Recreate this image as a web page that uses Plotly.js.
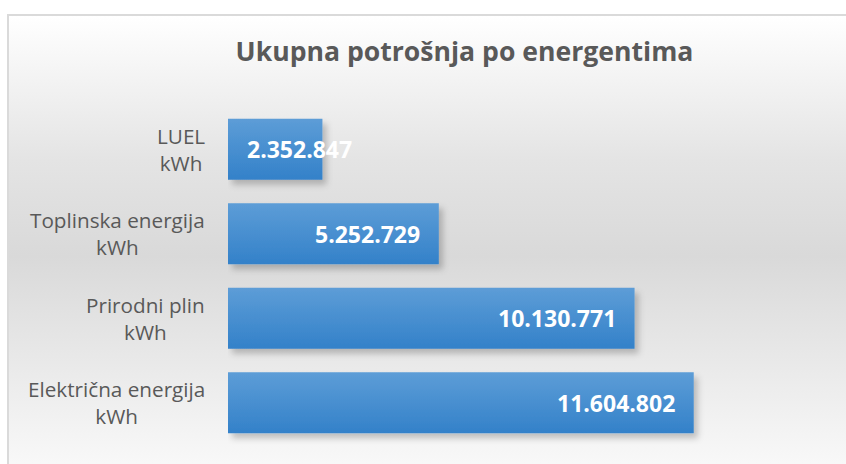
<!DOCTYPE html>
<html>
<head>
<meta charset="utf-8">
<script src="https://cdn.plot.ly/plotly-3.0.1.min.js"></script>
<style>
  html, body { margin: 0; padding: 0; width: 846px; height: 464px; overflow: hidden; background: #ffffff; }
  #frame {
    position: absolute; left: 7px; top: 14px; width: 860px; height: 480px;
    border: 2px solid #dadada;
    background: linear-gradient(to bottom, #ffffff 0%, #e4e4e4 30%, #d9d9d9 50%, #e6e6e6 68%, #fdfdfd 100%);
  }
  #chart { position: absolute; left: 0; top: 0; width: 846px; height: 464px; }
</style>
</head>
<body>
<div id="frame"></div>
<div id="chart"></div>
<script>
const chartTitle = 'Ukupna potrošnja po energentima';
const categories = ['LUEL<br>kWh', 'Toplinska energija<br>kWh', 'Prirodni plin<br>kWh', 'Električna energija<br>kWh'];
const values = [2352847, 5252729, 10130771, 11604802];

function fmt(v) {
  return String(v).replace(/\B(?=(\d{3})+(?!\d))/g, '.');
}

const trace = {
  type: 'bar',
  orientation: 'h',
  y: categories,
  x: values,
  marker: { color: '#4a8fd0', line: { width: 0 } },
  hoverinfo: 'none'
};

const annotations = [];
categories.forEach((c, i) => {
  annotations.push({
    xref: 'paper', x: 0, yref: 'y', y: c,
    xanchor: 'right', yanchor: 'middle', xshift: -21,
    align: 'center', showarrow: false, text: c,
    font: { family: 'Open Sans', size: 20.7, color: '#595959' }
  });
  const fits = values[i] > 4000000;
  annotations.push({
    xref: 'x', x: fits ? values[i] : 0, yref: 'y', y: c,
    xanchor: fits ? 'right' : 'left', yanchor: 'middle', xshift: fits ? -17 : 17,
    showarrow: false, text: fmt(values[i]),
    font: { family: 'Open Sans', size: 23, color: '#ffffff', weight: 'bold' }
  });
});

const layout = {
  width: 846, height: 464,
  paper_bgcolor: 'rgba(0,0,0,0)', plot_bgcolor: 'rgba(0,0,0,0)',
  margin: { l: 228, r: 16, t: 107, b: 19 },
  title: {
    text: '<b>' + chartTitle + '</b>',
    xref: 'container', x: 0.549, xanchor: 'center',
    yref: 'container', y: 0.888, yanchor: 'middle',
    font: { family: 'Open Sans', size: 26.6, color: '#595959' }
  },
  xaxis: { range: [0, 15000000], showgrid: false, zeroline: false, showticklabels: false, showline: false, fixedrange: true },
  yaxis: { type: 'category', autorange: 'reversed', showgrid: false, zeroline: false, showticklabels: false, showline: false, fixedrange: true },
  bargap: 0.276,
  showlegend: false,
  annotations: annotations
};

Plotly.newPlot('chart', [trace], layout, { displayModeBar: false, staticPlot: true }).then(gd => {
  const NS = 'http://www.w3.org/2000/svg';
  const defs = gd.querySelector('.main-svg defs');
  const grad = document.createElementNS(NS, 'linearGradient');
  grad.setAttribute('id', 'barGrad');
  grad.setAttribute('x1', '0'); grad.setAttribute('y1', '0');
  grad.setAttribute('x2', '0'); grad.setAttribute('y2', '1');
  [['0%', '#5d9dd7'], ['100%', '#3381c9']].forEach(([o, c]) => {
    const s = document.createElementNS(NS, 'stop');
    s.setAttribute('offset', o); s.setAttribute('stop-color', c);
    grad.appendChild(s);
  });
  defs.appendChild(grad);
  const filt = document.createElementNS(NS, 'filter');
  filt.setAttribute('id', 'barShadow');
  filt.setAttribute('x', '-10%'); filt.setAttribute('y', '-20%');
  filt.setAttribute('width', '130%'); filt.setAttribute('height', '160%');
  const ds = document.createElementNS(NS, 'feDropShadow');
  ds.setAttribute('dx', '4'); ds.setAttribute('dy', '5');
  ds.setAttribute('stdDeviation', '3');
  ds.setAttribute('flood-color', '#000000'); ds.setAttribute('flood-opacity', '0.22');
  filt.appendChild(ds);
  defs.appendChild(filt);
  gd.querySelectorAll('.bars .point path').forEach(p => {
    p.style.fill = 'url(#barGrad)';
    p.setAttribute('filter', 'url(#barShadow)');
  });
});
</script>
</body>
</html>
